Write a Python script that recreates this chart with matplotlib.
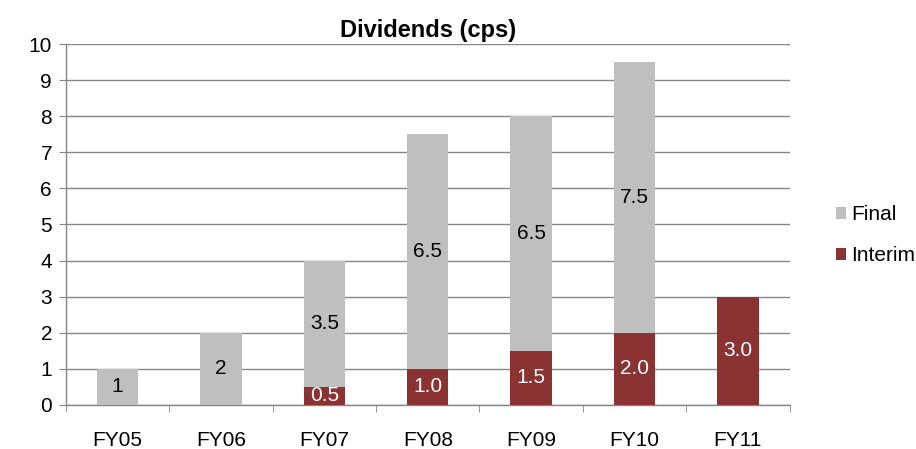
import matplotlib
matplotlib.use("Agg")
import matplotlib.pyplot as plt
import numpy as np

categories = ["FY05", "FY06", "FY07", "FY08", "FY09", "FY10", "FY11"]
interim = [0, 0, 0.5, 1.0, 1.5, 2.0, 3.0]
final = [1, 2, 3.5, 6.5, 6.5, 7.5, 0]
interim_labels = ["", "", "0.5", "1.0", "1.5", "2.0", "3.0"]
final_labels = ["1", "2", "3.5", "6.5", "6.5", "7.5", ""]

plt.rcParams['font.family'] = ['Liberation Sans', 'DejaVu Sans']

grey = "#BFBFBF"
red = "#8B3333"

fig = plt.figure(figsize=(9.16, 4.49), dpi=100)
ax = fig.add_axes([0.072, 0.098, 0.79, 0.804])

x = np.arange(len(categories))
w = 0.4
b1 = ax.bar(x, interim, w, color=red, label="Interim", zorder=3)
b2 = ax.bar(x, final, w, bottom=interim, color=grey, label="Final", zorder=3)

for i in range(len(categories)):
    if interim_labels[i]:
        ax.text(x[i], interim[i] / 2, interim_labels[i], ha="center", va="center",
                color="white", fontsize=15, zorder=4)
    if final_labels[i]:
        ax.text(x[i], interim[i] + final[i] / 2, final_labels[i], ha="center", va="center",
                color="black", fontsize=15, zorder=4)

ax.set_xlim(-0.5, len(categories) - 0.5)
ax.set_ylim(0, 10)
ax.set_yticks(range(0, 11))
ax.set_xticks(x)
ax.set_xticklabels(categories)
ax.set_xticks(np.arange(-0.5, len(categories), 1), minor=True)
ax.tick_params(axis="x", which="major", length=0, pad=19, labelsize=15)
ax.tick_params(axis="x", which="minor", length=5, color="#868686", direction="out")
ax.tick_params(axis="y", length=5, color="#868686", labelsize=15, pad=5)
ax.grid(axis="y", color="#868686", linewidth=1, zorder=0)
ax.set_axisbelow(True)
for s in ["top", "right"]:
    ax.spines[s].set_visible(False)
for s in ["left", "bottom"]:
    ax.spines[s].set_color("#868686")
    ax.spines[s].set_linewidth(1)

ax.set_title("Dividends (cps)", fontsize=17, fontweight="bold", pad=5)

handles = [b2, b1]
ax.legend(handles, ["Final", "Interim"], loc="center left", bbox_to_anchor=(1.035, 0.47),
          frameon=False, fontsize=15, handlelength=0.5, handleheight=0.5,
          handletextpad=0.25, labelspacing=1.05, borderaxespad=0.6)

fig.savefig("out.png", dpi=100)
